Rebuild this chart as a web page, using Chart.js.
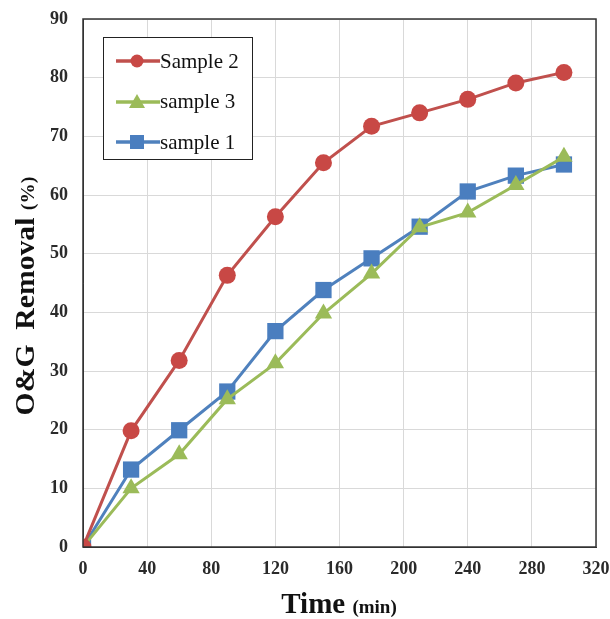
<!DOCTYPE html>
<html>
<head>
<meta charset="utf-8">
<script src="https://cdn.jsdelivr.net/npm/chart.js@4"></script>
<style>
  html, body { margin: 0; padding: 0; background: #fff; }
  #wrap { position: relative; width: 610px; height: 619px; }
  #legend {
    position: absolute; left: 103px; top: 37px; width: 150px; height: 123px;
    border: 1.5px solid #222; background: #fff; box-sizing: border-box;
    font-family: "Liberation Serif", "Times New Roman", serif; font-size: 21px; color: #111;
  }
  #legend .row { position: absolute; left: 12px; height: 22px; display: flex; align-items: center; }
  #legend canvas { display: block; }
</style>
</head>
<body>
<div id="wrap">
  <canvas id="chart" width="610" height="619"></canvas>
  <div id="legend"></div>
</div>
<script>
const times = [0, 30, 60, 90, 120, 150, 180, 210, 240, 270, 300];
const sample2 = [0, 19.8, 31.8, 46.3, 56.3, 65.5, 71.7, 74.0, 76.3, 79.1, 80.9];
const sample3 = [0, 10.0, 15.8, 25.2, 31.3, 39.8, 46.6, 54.5, 57.0, 61.7, 66.5];
const sample1 = [0, 13.2, 19.9, 26.5, 36.8, 43.8, 49.2, 54.6, 60.6, 63.3, 65.2];
const seriesNames = ['Sample 2', 'sample 3', 'sample 1'];

const pts = vals => vals.map((v, i) => ({ x: times[i], y: v }));
const serif = '"Liberation Serif", "Times New Roman", serif';
const tickFont = { family: serif, size: 18, weight: 'bold' };

const datasets = [
  { label: seriesNames[0], data: pts(sample2), borderColor: '#C0504D', backgroundColor: '#C84845',
    pointStyle: 'circle', pointRadius: 8.5 },
  { label: seriesNames[1], data: pts(sample3), borderColor: '#9BBB59', backgroundColor: '#9BBB59',
    pointStyle: 'triangle', pointRadius: 10 },
  { label: seriesNames[2], data: pts(sample1), borderColor: '#4F81BD', backgroundColor: '#4A7EBF',
    pointStyle: 'rect', pointRadius: 11.5 }
].map(d => Object.assign(d, { borderWidth: 3, pointBorderWidth: 0, tension: 0 }));

// axis titles with a smaller unit part, and a frame round the plot
const titles = {
  id: 'titles',
  afterDraw(chart) {
    const { ctx, chartArea: a } = chart;
    ctx.save();
    ctx.fillStyle = '#111';
    ctx.strokeStyle = '#333';
    ctx.lineWidth = 1.5;
    ctx.strokeRect(a.left, a.top, a.right - a.left, a.bottom - a.top);
    const draw = (big, small, bigSize, smallSize, cx, cy) => {
      ctx.font = 'bold ' + bigSize + 'px ' + serif;
      const w1 = ctx.measureText(big).width;
      ctx.font = 'bold ' + smallSize + 'px ' + serif;
      const w2 = ctx.measureText(small).width;
      const x = cx - (w1 + w2) / 2;
      ctx.textBaseline = 'alphabetic';
      ctx.textAlign = 'left';
      ctx.font = 'bold ' + bigSize + 'px ' + serif;
      ctx.fillText(big, x, cy);
      ctx.font = 'bold ' + smallSize + 'px ' + serif;
      ctx.fillText(small, x + w1, cy);
    };
    draw('Time ', '(min)', 29, 19, 339, 613);
    ctx.translate(34, 296);
    ctx.rotate(-Math.PI / 2);
    ctx.scale(1.06, 1);
    draw('O&G  Removal ', '(%)', 28, 19, 0, 0);
    ctx.restore();
  }
};

const noPad = s => { s.paddingTop = s.paddingBottom = s.paddingLeft = s.paddingRight = 0; };

new Chart(document.getElementById('chart'), {
  type: 'line',
  data: { datasets },
  options: {
    responsive: false,
    animation: false,
    layout: { padding: { left: 0, right: 14, top: 19, bottom: 0 } },
    plugins: { legend: { display: false }, tooltip: { enabled: false } },
    scales: {
      x: {
        type: 'linear', min: 0, max: 320,
        ticks: { stepSize: 40, font: tickFont, color: '#2a2a2a', padding: 12 },
        grid: { color: '#d9d9d9', drawTicks: false },
        border: { color: '#333' },
        afterFit: s => { s.height = 72; noPad(s); }
      },
      y: {
        min: 0, max: 90,
        ticks: { stepSize: 10, font: tickFont, color: '#2a2a2a', padding: 15 },
        grid: { color: '#d9d9d9', drawTicks: false },
        border: { color: '#333' },
        afterFit: s => { s.width = 83; noPad(s); }
      }
    }
  },
  plugins: [titles]
});

// legend inside the plot
const legend = document.getElementById('legend');
datasets.forEach((d, i) => {
  const row = document.createElement('div');
  row.className = 'row';
  row.style.top = (12 + i * 40.5) + 'px';
  const c = document.createElement('canvas');
  c.width = 44; c.height = 22;
  const g = c.getContext('2d');
  g.strokeStyle = d.borderColor; g.lineWidth = 3.5;
  g.beginPath(); g.moveTo(0, 11); g.lineTo(44, 11); g.stroke();
  g.fillStyle = d.backgroundColor;
  g.beginPath();
  if (d.pointStyle === 'circle') g.arc(21, 11, 6.5, 0, Math.PI * 2);
  else if (d.pointStyle === 'rect') g.rect(14, 4, 14, 14);
  else { g.moveTo(21, 3); g.lineTo(29, 17); g.lineTo(13, 17); g.closePath(); }
  g.fill();
  const t = document.createElement('span');
  t.textContent = d.label;
  row.appendChild(c); row.appendChild(t);
  legend.appendChild(row);
});
</script>
</body>
</html>
